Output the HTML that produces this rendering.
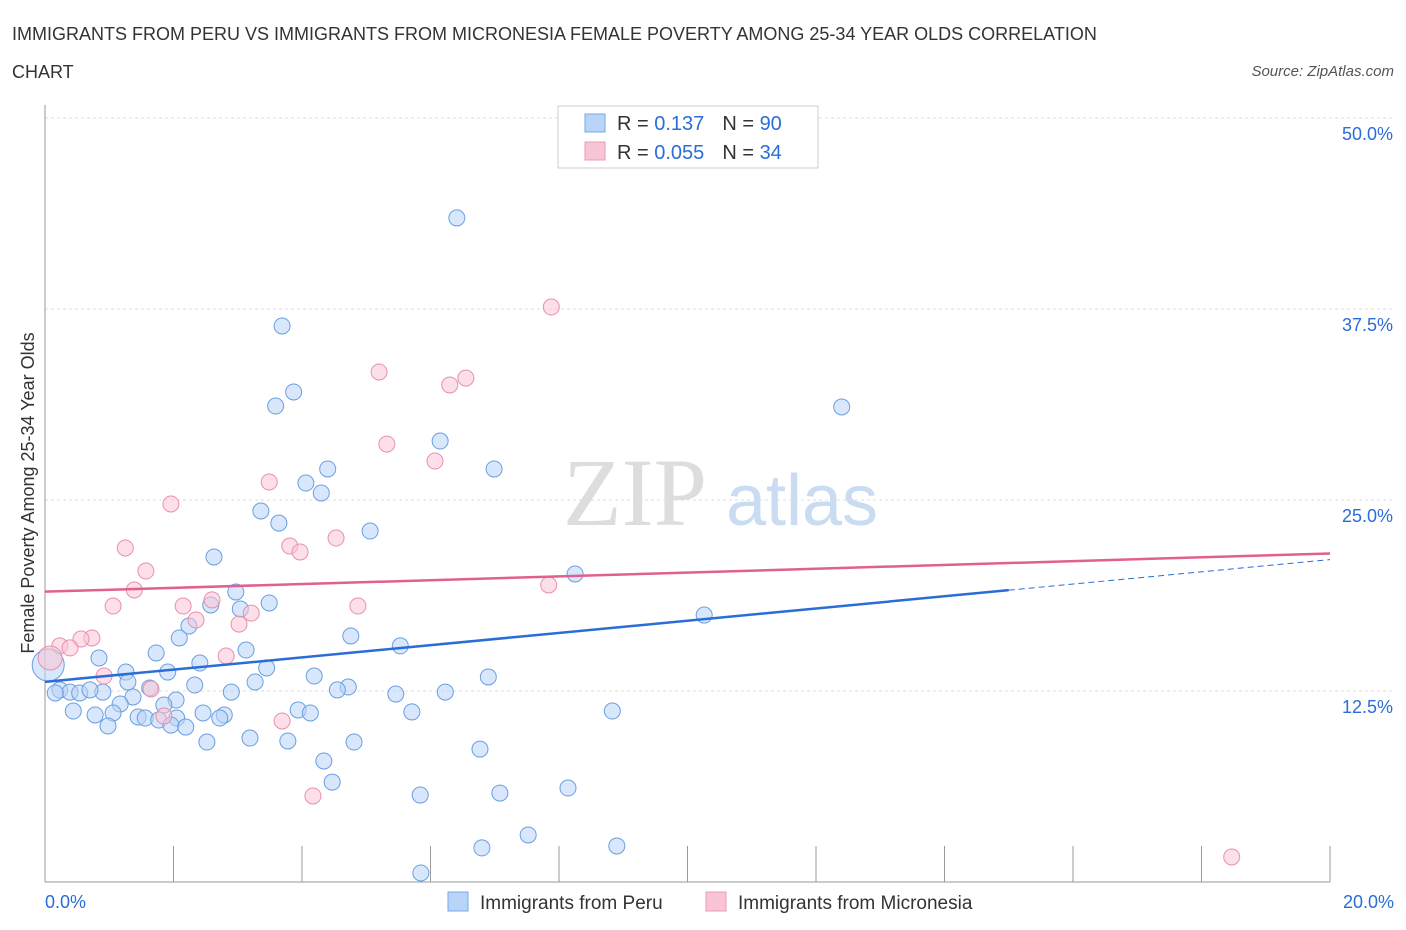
<!DOCTYPE html>
<html><head><meta charset="utf-8"><style>
body{margin:0;background:#fff;font-family:"Liberation Sans",sans-serif;}
#wrap{position:relative;width:1406px;height:930px;overflow:hidden}
</style></head><body>
<div id="wrap">
<svg id="chart" width="1406" height="930" xmlns="http://www.w3.org/2000/svg">
<text x="12" y="40" font-size="18" fill="#333">IMMIGRANTS FROM PERU VS IMMIGRANTS FROM MICRONESIA FEMALE POVERTY AMONG 25-34 YEAR OLDS CORRELATION</text>
<text x="12" y="78" font-size="18" fill="#333">CHART</text>
<text x="1394" y="76" font-size="15" fill="#555" font-style="italic" text-anchor="end">Source: ZipAtlas.com</text>
<text x="635" y="525" font-size="96" fill="#ddd" font-family="Liberation Serif,serif" text-anchor="middle">ZIP</text>
<text x="802" y="525" font-size="72" fill="#c9dcf2" text-anchor="middle">atlas</text>
<text transform="translate(34,493) rotate(-90)" font-size="18" fill="#333" text-anchor="middle">Female Poverty Among 25-34 Year Olds</text>
<g id="grid"></g><g id="marks"></g>
<g>
<rect x="558" y="106" width="260" height="62" fill="#fff" stroke="#ccc"/>
<rect x="585" y="114" width="20" height="18" fill="#b8d4f7" stroke="#7aa8e8"/>
<rect x="585" y="142" width="20" height="18" fill="#f9c5d6" stroke="#eb9ab5"/>
<text x="617" y="130" font-size="20" fill="#333">R = <tspan fill="#2a6dd6"> 0.137</tspan><tspan dx="18">N = </tspan><tspan fill="#2a6dd6">90</tspan></text>
<text x="617" y="159" font-size="20" fill="#333">R = <tspan fill="#2a6dd6">0.055</tspan><tspan dx="18">N = </tspan><tspan fill="#2a6dd6">34</tspan></text>
</g>
<g>
<rect x="448" y="892" width="20" height="19" fill="#b8d4f7" stroke="#7aa8e8"/>
<text x="480" y="909" font-size="19" fill="#333">Immigrants from Peru</text>
<rect x="706" y="892" width="20" height="19" fill="#f9c5d6" stroke="#eb9ab5"/>
<text x="738" y="909" font-size="19" fill="#333">Immigrants from Micronesia</text>
</g>
</svg>
</div>
<script>
const yTicks=[12.5,25.0,37.5,50.0];
const xTickLabels=["0.0%","20.0%"];
const peruX=[6.41,3.69,3.87,3.59,12.40,6.15,4.40,6.99,4.06,4.30,3.36,3.64,5.06,2.63,8.25,2.97,3.49,2.58,3.04,10.26,2.24,2.09,4.76,5.53,3.13,1.73,0.84,2.41,3.45,1.26,1.91,4.19,6.90,3.27,2.33,1.29,4.72,4.55,1.63,2.90,0.90,6.23,5.46,0.23,0.39,0.54,0.70,0.16,1.37,2.04,1.17,1.85,0.44,3.94,8.83,4.13,2.46,5.71,0.78,1.06,2.79,1.45,1.56,2.05,2.72,1.77,0.98,1.96,2.19,3.19,2.52,3.78,4.81,6.77,4.34,4.47,5.84,7.08,8.14,7.52,6.80,8.90,5.85];
const peruY=[43.46,36.39,32.07,31.15,31.09,28.86,27.03,27.03,26.11,25.46,24.28,23.49,22.97,21.27,20.16,18.98,18.26,18.13,17.87,17.47,16.75,15.97,16.10,15.45,15.18,14.99,14.66,14.33,14.01,13.74,13.74,13.48,13.42,13.09,12.89,13.09,12.76,12.57,12.70,12.43,12.43,12.43,12.30,12.57,12.43,12.37,12.57,12.37,12.11,11.91,11.65,11.58,11.19,11.26,11.19,11.06,11.06,11.13,10.93,11.06,10.93,10.80,10.73,10.73,10.73,10.60,10.21,10.27,10.14,9.42,9.16,9.23,9.16,8.70,7.92,6.54,5.69,5.82,6.15,3.08,2.23,2.36,0.59];
const micX=[7.88,5.20,6.55,6.30,5.32,6.07,3.49,1.96,4.53,3.81,3.97,1.25,1.57,1.39,7.84,2.60,2.15,1.06,4.87,3.21,2.35,3.02,0.73,0.56,0.23,0.39,2.82,0.92,1.65,1.85,3.69,4.17,18.47];
const micY=[37.63,33.38,32.98,32.53,28.66,27.55,26.18,24.74,22.51,21.99,21.60,21.86,20.35,19.11,19.44,18.46,18.06,18.06,18.06,17.60,17.15,16.88,15.97,15.90,15.45,15.32,14.79,13.48,12.63,10.86,10.54,5.63,1.64];
const bigX=[0.05,0.08], bigY=[14.2,14.66];
const peruFit=[13.1,21.1], micFit=[19.0,21.5];
const X0=45,X1=1330,Y0=882,Y50=118;
const sx=v=>X0+(X1-X0)*v/20, sy=v=>Y0-(Y0-Y50)*v/50;
const NS="http://www.w3.org/2000/svg";
function mk(t,a,p){const e=document.createElementNS(NS,t);for(const k in a)e.setAttribute(k,a[k]);p.appendChild(e);return e;}
const g=document.getElementById('grid'),m=document.getElementById('marks');
yTicks.forEach(v=>{const l=mk('line',{x1:X0,x2:1395,y1:sy(v),y2:sy(v),stroke:'#ddd','stroke-dasharray':'3,3'},g);


const t=mk('text',{x:1393,y:sy(v)+22,'font-size':18,fill:'#2a6dd6','text-anchor':'end'},g);t.textContent=v.toFixed(1)+'%';

});
mk('line',{x1:X0,x2:1395,y1:sy(50),y2:sy(50),stroke:'#ddd','stroke-dasharray':'3,3'},g);
const ax=mk('line',{x1:X0,x2:X0,y1:105,y2:Y0,stroke:'#999'},g);


const bx=mk('line',{x1:X0,x2:X1,y1:Y0,y2:Y0,stroke:'#999'},g);


for(let i=0;i<=10;i++){const tk=mk('line',{x1:sx(i*2),x2:sx(i*2),y1:Y0,y2:Y0-36,stroke:'#999'},g);

}
[[0,'start',45],[20,'end',1394]].forEach((d,i)=>{const t=mk('text',{x:d[2],y:908,'font-size':18,fill:'#2a6dd6','text-anchor':d[1]},g);t.textContent=xTickLabels[i];

});
function pts(xs,ys,fill,stroke,name,r){xs.forEach((x,i)=>{const c=mk('circle',{cx:sx(x),cy:sy(ys[i]),r:r,fill:fill,stroke:stroke,'stroke-width':1,'fill-opacity':0.55},m);

});}
pts(peruX,peruY,'#b8d4f7','#6a9fe0','peru-point',8);
pts(micX,micY,'#f9c5d6','#e890ae','micronesia-point',8);
const b1=mk('circle',{cx:sx(bigX[0]),cy:sy(bigY[0]),r:16,fill:'#b8d4f7',stroke:'#6a9fe0','fill-opacity':0.55},m);


const b2=mk('circle',{cx:sx(bigX[1]),cy:sy(bigY[1]),r:12,fill:'#f9c5d6',stroke:'#e890ae','fill-opacity':0.55},m);


const mx=15.0, midY=peruFit[0]+(peruFit[1]-peruFit[0])*mx/20;
const pl=mk('line',{x1:sx(0),y1:sy(peruFit[0]),x2:sx(mx),y2:sy(midY),stroke:'#2a6dd6','stroke-width':2.5},m);


const pd=mk('line',{x1:sx(mx),y1:sy(midY),x2:sx(20),y2:sy(peruFit[1]),stroke:'#2a6dd6','stroke-width':1,'stroke-dasharray':'6,4'},m);


const ml=mk('line',{x1:sx(0),y1:sy(micFit[0]),x2:sx(20),y2:sy(micFit[1]),stroke:'#e0608f','stroke-width':2.5},m);


</script>
</body></html>
